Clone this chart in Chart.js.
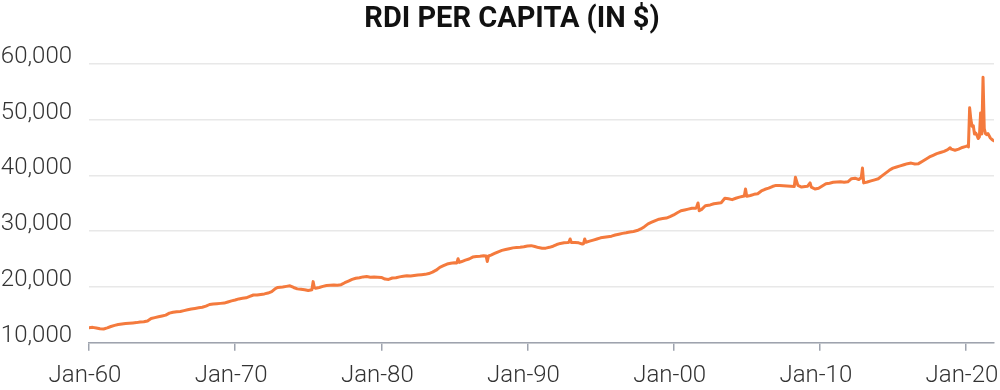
<!DOCTYPE html>
<html>
<head>
<meta charset="utf-8">
<script src="https://cdn.jsdelivr.net/npm/chart.js@4.4.1/dist/chart.umd.min.js"></script>
<style>
  html, body { margin: 0; padding: 0; background: #ffffff; }
  #wrap { width: 1000px; height: 390px; }
</style>
</head>
<body>
<div id="wrap"><canvas id="c" width="1000" height="390"></canvas></div>
<script>
// ---- Data ----
const chartTitle = 'RDI PER CAPITA (IN $)';
const dates = [
  '1960-01','1960-04','1960-07','1960-10','1961-01','1961-04','1961-07','1961-10',
  '1962-01','1962-04','1962-07','1962-10','1963-01','1963-04','1963-07','1963-10',
  '1964-01','1964-04','1964-07','1964-10','1965-01','1965-04','1965-07','1965-10',
  '1966-01','1966-04','1966-07','1966-10','1967-01','1967-04','1967-07','1967-10',
  '1968-01','1968-04','1968-07','1968-10','1969-01','1969-04','1969-07','1969-10',
  '1970-01','1970-04','1970-07','1970-10','1971-01','1971-04','1971-07','1971-10',
  '1972-01','1972-04','1972-07','1972-10','1972-12','1973-04','1973-07','1973-10',
  '1974-01','1974-04','1974-07','1974-10','1975-01','1975-04','1975-05','1975-06',
  '1975-07','1975-10','1976-01','1976-04','1976-07','1976-10','1977-01','1977-04',
  '1977-07','1977-10','1978-01','1978-04','1978-07','1978-10','1979-01','1979-04',
  '1979-07','1979-10','1980-01','1980-04','1980-07','1980-10','1981-01','1981-04',
  '1981-07','1981-10','1982-01','1982-04','1982-07','1982-10','1983-01','1983-04',
  '1983-07','1983-10','1984-01','1984-04','1984-07','1984-10','1985-01','1985-03',
  '1985-04','1985-05','1985-07','1985-10','1986-01','1986-04','1986-07','1986-10',
  '1987-01','1987-03','1987-04','1987-05','1987-07','1987-10','1988-01','1988-04',
  '1988-07','1988-10','1989-01','1989-04','1989-07','1989-10','1990-01','1990-04',
  '1990-07','1990-10','1991-01','1991-04','1991-07','1991-10','1992-01','1992-04',
  '1992-07','1992-10','1992-11','1992-12','1993-01','1993-04','1993-07','1993-10',
  '1993-11','1993-12','1994-01','1994-04','1994-07','1994-10','1995-01','1995-04',
  '1995-07','1995-10','1996-01','1996-04','1996-07','1996-10','1997-01','1997-04',
  '1997-07','1997-10','1998-01','1998-04','1998-07','1998-10','1999-01','1999-04',
  '1999-07','1999-10','2000-01','2000-04','2000-07','2000-10','2001-01','2001-04',
  '2001-07','2001-08','2001-09','2001-10','2001-12','2002-03','2002-07','2002-10',
  '2003-01','2003-04','2003-07','2003-10','2004-01','2004-04','2004-07','2004-10',
  '2004-11','2004-12','2005-01','2005-04','2005-07','2005-10','2006-01','2006-04',
  '2006-07','2006-10','2007-01','2007-04','2007-07','2007-10','2008-01','2008-04',
  '2008-05','2008-06','2008-07','2008-10','2009-01','2009-03','2009-05','2009-06',
  '2009-09','2009-12','2010-03','2010-06','2010-09','2010-12','2011-03','2011-06',
  '2011-09','2011-12','2012-03','2012-06','2012-09','2012-11','2012-12','2013-01',
  '2013-04','2013-07','2013-10','2014-01','2014-04','2014-07','2014-10','2015-01',
  '2015-04','2015-07','2015-10','2016-01','2016-04','2016-07','2016-10','2017-01',
  '2017-04','2017-07','2017-10','2018-01','2018-04','2018-07','2018-10','2018-12',
  '2019-01','2019-04','2019-07','2019-10','2020-01','2020-02','2020-03','2020-04',
  '2020-05','2020-06','2020-07','2020-08','2020-09','2020-10','2020-11','2020-12',
  '2021-01','2021-02','2021-03','2021-04','2021-05','2021-06','2021-07','2021-08',
  '2021-09','2021-10','2021-11','2021-12'
];
const rdiPerCapita = [
  12700,12750,12650,12500,12450,12650,12900,13100,
  13250,13350,13450,13500,13550,13600,13700,13750,
  13900,14350,14500,14650,14800,14950,15300,15450,
  15550,15600,15750,15900,16050,16150,16250,16350,
  16550,16850,16950,17000,17050,17100,17300,17500,
  17650,17850,17950,18050,18300,18550,18550,18650,
  18750,18900,19150,19700,19900,20000,20100,20200,
  19900,19650,19600,19500,19350,19500,20950,19900,
  19750,19900,20100,20250,20300,20350,20300,20400,
  20750,21050,21350,21550,21650,21800,21850,21750,
  21800,21750,21700,21400,21350,21600,21650,21800,
  21900,22000,21950,22050,22150,22200,22250,22400,
  22650,23000,23500,23800,24100,24250,24350,24300,
  25050,24400,24550,24800,25000,25350,25450,25500,
  25600,25550,24550,25550,25700,26000,26300,26550,
  26700,26850,27000,27050,27100,27200,27350,27400,
  27250,27050,26950,26950,27100,27300,27600,27800,
  27900,27950,28000,28600,27950,27950,27900,27700,
  27750,28600,28000,28200,28400,28600,28800,28900,
  29000,29100,29300,29450,29600,29700,29850,29950,
  30100,30400,30800,31300,31600,31900,32150,32250,
  32350,32600,32900,33300,33650,33800,33950,34100,
  34100,34400,35050,33650,33900,34550,34700,34900,
  35000,35100,35900,35800,35650,35900,36100,36250,
  36300,37550,36250,36400,36600,36700,37200,37500,
  37700,38000,38200,38200,38150,38100,38050,38000,
  39650,38900,38200,37900,38000,38050,38650,37900,
  37550,37700,38100,38500,38600,38750,38800,38850,
  38750,38850,39400,39500,39250,39600,41300,38650,
  38800,39000,39200,39400,39900,40400,40900,41300,
  41500,41700,41900,42100,42200,42050,42100,42500,
  42900,43300,43600,43900,44100,44300,44600,44950,
  44700,44500,44700,45000,45200,45300,45100,52100,
  50000,48800,48900,47400,47600,47200,46600,46900,
  51200,47400,57600,48400,47500,47300,47500,47100,
  46700,46500,46300,46200
];
const yTickValues = [10000, 20000, 30000, 40000, 50000, 60000];
const xTickLabels = ['Jan-60','Jan-70','Jan-80','Jan-90','Jan-00','Jan-10','Jan-20'];

// month index since Jan 1960
function monthIndex(s) {
  const [y, m] = s.split('-').map(Number);
  return (y - 1960) * 12 + (m - 1);
}
const points = dates.map((d, i) => ({ x: monthIndex(d), y: rdiPerCapita[i] }));
const lastMonth = monthIndex(dates[dates.length - 1]);

const tickFont = { family: 'Roboto', size: 24, weight: '300' };

// centre the title a little to the right, as in the reference
const titleShift = {
  id: 'titleShift',
  afterLayout(chart) {
    if (chart.titleBlock) { chart.titleBlock.left += 30; }
  }
};

new Chart(document.getElementById('c'), {
  type: 'line',
  data: {
    datasets: [{
      data: points,
      borderColor: '#F47A3D',
      borderWidth: 3,
      borderJoinStyle: 'round',
      borderCapStyle: 'round',
      pointRadius: 0,
      tension: 0,
      fill: false
    }]
  },
  plugins: [titleShift],
  options: {
    responsive: false,
    animation: false,
    layout: { padding: { left: 0, right: 6, top: 0, bottom: 0 } },
    plugins: {
      legend: { display: false },
      tooltip: { enabled: false },
      title: {
        display: true,
        text: chartTitle,
        color: '#111111',
        font: { family: 'Roboto', size: 29, weight: 'bold' },
        padding: { top: 2, bottom: 27 }
      }
    },
    scales: {
      x: {
        type: 'linear',
        min: 0,
        max: lastMonth,
        afterBuildTicks: (scale) => {
          scale.ticks = xTickLabels.map((_, i) => ({ value: i * 120 }));
        },
        afterFit: (scale) => {
          scale.height = 47.3;
          scale.paddingLeft = 0;
          scale.paddingRight = 0;
        },
        ticks: {
          autoSkip: false,
          maxRotation: 0,
          includeBounds: false,
          color: '#333333',
          font: tickFont,
          padding: 11,
          labelOffset: -4,
          callback: (v) => xTickLabels[Math.round(v / 120)] || ''
        },
        grid: {
          drawOnChartArea: false,
          drawTicks: true,
          tickLength: 8,
          color: '#9ea3ae',
          lineWidth: 1.5
        },
        border: { display: true, color: '#9ea3ae', width: 1.5 }
      },
      y: {
        min: 10000,
        max: 60000,
        afterBuildTicks: (scale) => {
          scale.ticks = yTickValues.map(v => ({ value: v }));
        },
        afterFit: (scale) => {
          scale.width = 89;
          scale.paddingTop = 0;
          scale.paddingBottom = 0;
        },
        ticks: {
          color: '#333333',
          font: tickFont,
          padding: 17,
          labelOffset: -7,
          callback: (v) => v.toLocaleString('en-US')
        },
        grid: {
          drawTicks: false,
          color: '#e8e8e8',
          lineWidth: 1.5
        },
        border: { display: false }
      }
    }
  }
});
</script>
</body>
</html>
